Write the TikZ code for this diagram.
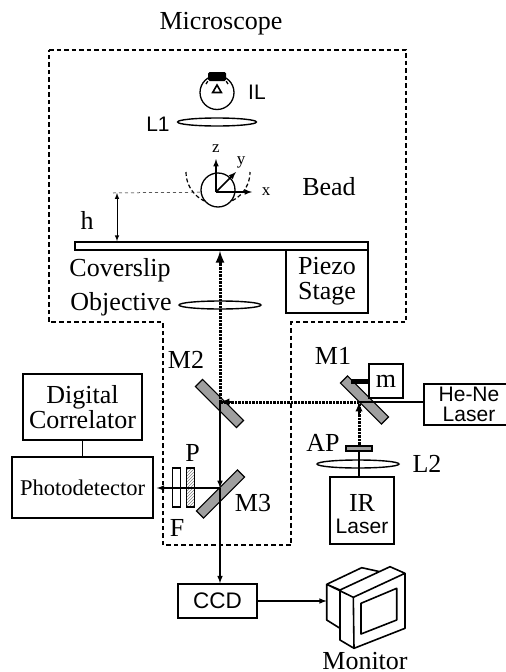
\documentclass[tikz,border=0pt]{standalone}
\usepackage{fontspec}
\setmainfont{Liberation Serif}
\newfontfamily\labelsans{Liberation Sans}
\usetikzlibrary{arrows,positioning,calc,shapes.geometric,patterns}
\tikzset{
	box/.style={draw,line width=1.6pt,inner sep=0pt,align=center,font=\fontsize{26}{25}\selectfont},
	lens/.style={draw,ellipse,line width=1.4pt,inner sep=0pt,minimum height=8pt},
	mirror/.style={draw,line width=1.1pt,fill=gray!75,inner sep=0pt,minimum width=58pt,minimum height=10pt},
	plate/.style={draw,line width=1.3pt,fill=white,inner sep=0pt,minimum width=8pt,minimum height=39pt},
	txt/.style={inner sep=0pt,align=center,font=\fontsize{26}{25}\selectfont},
	sanstxt/.style={inner sep=0pt,align=center,font=\labelsans\fontsize{21}{20}\selectfont},
	axislab/.style={inner sep=0pt,font=\fontsize{17}{17}\selectfont},
	axis/.style={line width=1.5pt,-latex},
	beam/.style={line width=1.5pt},
	dotbeam/.style={line width=3pt,dash pattern=on 1pt off 0.4pt},
}
\begin{document}
\begin{tikzpicture}[x=1pt,y=-1pt]
	\useasboundingbox (0,0) rectangle (506,672);
	\clip (0,0) rectangle (506,672);

	% Microscope outline
	\draw[line width=1.7pt,dash pattern=on 4.5pt off 3pt]
		(49,50) -- (406,50) -- (406,322) -- (291,322) -- (291,545)
		-- (163,545) -- (163,322) -- (49,322) -- cycle;
	\node[txt] (title) at (221,24) {Microscope};

	% Lamp
	\node[draw,circle,line width=1.3pt,minimum size=34pt,inner sep=0pt] (bulb) at (217,92.5) {};
	\node[fill=black,rounded corners=1.5pt,minimum width=18pt,minimum height=9pt,inner sep=0pt] (base) at (217,76.5) {};
	\draw[line width=1.3pt] (base.south west) -- (206,84);
	\draw[line width=1.3pt] (base.south east) -- (228,84);
	\node[draw,regular polygon,regular polygon sides=3,line width=1.6pt,minimum size=10pt,inner sep=0pt] (lampwire) at (217,90) {};
	\node[sanstxt] (IL) at (257,92) {IL};
	\node[lens,minimum width=79pt] (L1) at (217,122) {};
	\node[sanstxt] (L1txt) at (158,124) {L1};

	% Bead and axes
	\coordinate (beadc) at (216,192);
	\coordinate (hstart) at (113,193);
	\draw[line width=0.5pt,dashed] (hstart) -- (beadc);
	\draw[line width=1.2pt,dash pattern=on 4pt off 2.5pt] (186,172) arc[start angle=180,end angle=360,radius=32pt];
	\node[draw,circle,fill=white,line width=1.3pt,minimum size=34pt,inner sep=0pt] (bead) at (218,190) {};
	\draw[axis] (beadc) -- (216,159);
	\draw[axis] (beadc) -- (252,192);
	\draw[axis] (beadc) -- (236,172);
	\node[axislab] (zlab) at (216,149) {z};
	\node[axislab] (ylab) at (241,162) {y};
	\node[axislab] (xlab) at (266,192) {x};
	\node[txt] (beadtxt) at (329,187) {Bead};

	% Coverslip and stage
	\node[draw,line width=1.6pt,minimum width=293pt,minimum height=8pt,inner sep=0pt] (slip) at (221.5,246) {};
	\node[box,minimum width=82pt,minimum height=63pt] (piezo) at (327,281.5) {Piezo\\Stage};
	\coordinate (htop) at (117,193);
	\draw[line width=1pt,latex-latex] (htop) -- (htop |- slip.north);
	\node[txt] (hlab) at (87,220) {h};
	\node[txt] (coverslip) at (120,270) {Coverslip};
	\node[txt] (objtxt) at (121,304) {Objective};
	\node[lens,minimum width=82pt] (objective) at (220,305) {};

	% Mirrors
	\node[mirror,rotate=-45] (M2) at (219.5,403.5) {};
	\node[mirror,rotate=45] (M3) at (220.5,494) {};
	\node[mirror,rotate=-45] (M1) at (364.5,400) {};
	\node[txt] (M2txt) at (186,360) {M2};
	\node[txt] (M3txt) at (253,503) {M3};
	\node[txt] (M1txt) at (333,356) {M1};

	% Lasers
	\node[box,minimum width=90pt,minimum height=41pt,font=\labelsans\fontsize{21}{20}\selectfont] (hene) at (469,404.5) {He-Ne\\Laser};
	\node[box,minimum width=64pt,minimum height=67pt] (ir) at (362,510.5) {};
	\node[txt] (irtxt) at (362,503) {IR};
	\node[sanstxt] (irlaser) at (362,526) {Laser};
	\node[box,minimum width=34pt,minimum height=34pt] (motor) at (386,381) {m};
	\draw[line width=5pt] (motor.west) -- (351,381);
	\node[draw,line width=1.2pt,fill=gray!75,minimum width=26pt,minimum height=5pt,inner sep=0pt] (AP) at (359,448.5) {};
	\node[lens,minimum width=82pt] (L2) at (358,464) {};
	\node[txt] (APtxt) at (323,443) {AP};
	\node[txt] (L2txt) at (427,464) {L2};

	% Beams
	\coordinate (heneL) at (hene.west |- 0,402);
	\coordinate (m1c) at (359,402);
	\coordinate (m2c) at (220,402);
	\coordinate (m3c) at (220,488);
	\draw[beam] (heneL) -- (m1c);
	\draw[dotbeam] (m1c) -- (m2c);
	\draw[-latex,line width=2.2pt] (234,402) -- (m2c);
	\draw[beam] (ir.north -| m1c) -- (AP.south -| m1c);
	\draw[dotbeam] (AP.north -| m1c) -- (m1c);
	\draw[-latex,line width=2.2pt] (359,416) -- (m1c);
	\draw[dotbeam] (m2c) -- (220,264);
	\draw[-latex,line width=3pt] (220,266) -- (slip.south -| m2c);
	\draw[beam,-latex] (m2c) -- (m3c);

	% Detection
	\node[box,minimum width=119pt,minimum height=66pt,font=\fontsize{26}{23}\selectfont] (corr) at (82.5,407) {Digital\\Correlator};
	\node[box,minimum width=141pt,minimum height=61pt,font=\fontsize{22.5}{22}\selectfont] (photo) at (82.5,487.5) {Photodetector};
	\draw[line width=1.6pt] (corr) -- (photo);
	\node[plate] (F) at (176.5,487.5) {};
	\node[plate,pattern=north east lines,pattern color=gray] (P) at (190.5,487.5) {};
	\node[txt] (Ftxt) at (177,528) {F};
	\node[txt] (Ptxt) at (192.5,453) {P};
	\draw[beam,-latex,shorten >=3pt] (m3c) -- (photo.east |- m3c);

	% Camera and monitor
	\node[box,minimum width=79pt,minimum height=34pt,font=\labelsans\fontsize{22.5}{22}\selectfont] (ccd) at (217.5,601) {CCD};
	\draw[beam,-latex] (m3c) -- (m3c |- ccd.north);
	\coordinate (monitorL) at (326.7,601);
	\draw[beam,-latex] (ccd) -- (monitorL);
	\draw[line width=1.6pt,line join=round]
		(326.7,584.3) -- (361.7,567.7) -- (380,571.7)
		(326.7,584.3) -- (326.7,620) -- (340,628.3)
		(326.7,584.3) -- (340,590) -- (390,566.7) -- (405,573.3) -- (353.3,597.3) -- cycle
		(340,590) -- (340,640) -- (354,648.3) -- (405,628.3) -- (405,573.3)
		(353.3,597.3) -- (354,648.3)
		(361,603.3) -- (396.7,588.3) -- (396.7,620) -- (361,634) -- cycle;
	\node[txt] (montxt) at (365,661) {Monitor};
\end{tikzpicture}
\end{document}
